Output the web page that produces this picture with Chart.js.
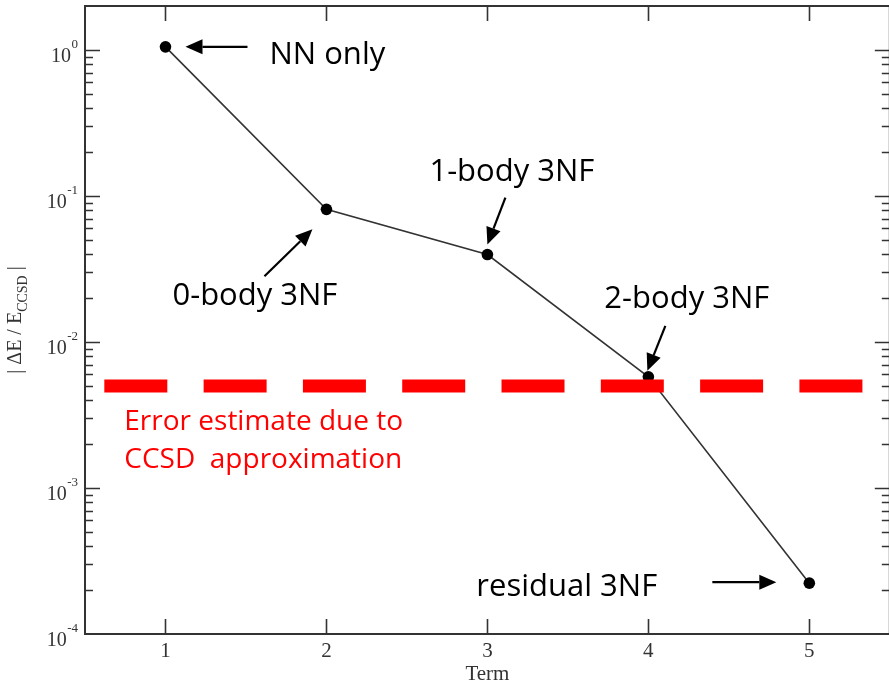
<!DOCTYPE html>
<html><head><meta charset="utf-8">
<script src="https://cdn.jsdelivr.net/npm/chart.js@4.4.1/dist/chart.umd.min.js"></script>
<style>
html,body{margin:0;padding:0;overflow:hidden;background:#fff}
#c{position:absolute;left:0;top:0;width:894px;height:686px}
</style>
</head><body>
<canvas id="c" width="894" height="686"></canvas>
<script>
// ---------- data ----------
const terms = [1, 2, 3, 4, 5];
const errorRatio = [1.05, 0.081, 0.0397, 0.00577, 0.000223];
const pointLabels = ['NN only', '0-body 3NF', '1-body 3NF', '2-body 3NF', 'residual 3NF'];
const ccsdLevel = 0.005;
const ccsdSpan = [0.62, 5.33];
const ccsdText = ['Error estimate due to', 'CCSD  approximation'];
const xTicks = [1, 2, 3, 4, 5];
const xRange = [0.5, 5.5];
const yMajorExponents = [0, -1, -2, -3, -4];
const xTitle = 'Term';
const yTitleParts = ['| \u0394E / E', 'CCSD', ' |'];

// ---------- styles (pixel offsets relative to the data point) ----------
const callouts = [
  { tip: [20, 0],   tail: [82, 0],    text: [104, 17] },
  { tip: [-14, 20], tail: [-62, 67],  text: [-154, 96] },
  { tip: [0, -10],  tail: [18, -57],  text: [-58, -74] },
  { tip: [-1, -6],  tail: [17, -51],  text: [-44, -69] },
  { tip: [-33, -1], tail: [-97, -1],  text: [-333, 13] }
];
const INK = '#333';
const SERIF = '"Liberation Serif", "Times New Roman", serif';
const SANS = '"Open Sans", "Noto Sans", sans-serif';

function arrow(ctx, x1, y1, x2, y2) {
  const ang = Math.atan2(y2 - y1, x2 - x1), L = 17, W = 7.5;
  const bx = x2 - L * Math.cos(ang), by = y2 - L * Math.sin(ang);
  ctx.beginPath(); ctx.moveTo(x1, y1); ctx.lineTo(bx, by);
  ctx.lineWidth = 2.2; ctx.strokeStyle = '#000'; ctx.stroke();
  ctx.beginPath(); ctx.moveTo(x2, y2);
  ctx.lineTo(bx - W * Math.sin(ang), by + W * Math.cos(ang));
  ctx.lineTo(bx + W * Math.sin(ang), by - W * Math.cos(ang));
  ctx.closePath(); ctx.fillStyle = '#000'; ctx.fill();
}

const framePlugin = {
  id: 'frame',
  beforeDatasetsDraw(chart) {
    const { ctx, chartArea: a, scales: { x, y } } = chart;
    const L = x.getPixelForValue(xRange[0]), R = x.getPixelForValue(xRange[1]);
    ctx.save();
    ctx.strokeStyle = INK; ctx.lineWidth = 2;
    ctx.strokeRect(L, a.top, R - L, a.bottom - a.top);
    ctx.lineWidth = 1.6;
    ctx.beginPath();
    x.ticks.forEach(t => {
      const px = Math.round(x.getPixelForValue(t.value)) + 0.5;
      ctx.moveTo(px, a.bottom); ctx.lineTo(px, a.bottom - 15);
      ctx.moveTo(px, a.top); ctx.lineTo(px, a.top + 15);
    });
    y.ticks.forEach(t => {
      const e = Math.log10(t.value);
      const major = Math.abs(e - Math.round(e)) < 1e-9;
      const len = major ? 15 : 8;
      const py = Math.round(y.getPixelForValue(t.value)) + 0.5;
      if (py < a.top + 1 || py > a.bottom - 1) return;
      ctx.moveTo(L, py); ctx.lineTo(L + len, py);
      ctx.moveTo(R, py); ctx.lineTo(R - len, py);
    });
    ctx.stroke();
    ctx.fillStyle = INK;
    ctx.font = '21px ' + SERIF; ctx.textAlign = 'center'; ctx.textBaseline = 'alphabetic';
    x.ticks.forEach(t => ctx.fillText(String(t.value), x.getPixelForValue(t.value), a.bottom + 23));
    ctx.fillText(xTitle, x.getPixelForValue((xRange[0] + xRange[1]) / 2), a.bottom + 46);
    yMajorExponents.forEach(n => {
      const py = y.getPixelForValue(Math.pow(10, n));
      const exp = n === 0 ? '0' : String(n);
      ctx.font = '13px ' + SERIF;
      const we = ctx.measureText(exp).width;
      ctx.textAlign = 'right';
      ctx.fillText(exp, L - 7, py - 2);
      ctx.font = '20px ' + SERIF;
      ctx.fillText('10', L - 7 - we - 0.5, py + 12);
    });
    ctx.save();
    ctx.translate(21, (a.top + a.bottom) / 2);
    ctx.rotate(-Math.PI / 2);
    ctx.textAlign = 'left';
    ctx.font = '20px ' + SERIF; const w0 = ctx.measureText(yTitleParts[0]).width;
    const w2 = ctx.measureText(yTitleParts[2]).width;
    ctx.font = '14px ' + SERIF; const w1 = ctx.measureText(yTitleParts[1]).width;
    let x0 = -(w0 + w1 + w2) / 2;
    ctx.font = '20px ' + SERIF; ctx.fillText(yTitleParts[0], x0, 0);
    ctx.font = '14px ' + SERIF; ctx.fillText(yTitleParts[1], x0 + w0, 6);
    ctx.font = '20px ' + SERIF; ctx.fillText(yTitleParts[2], x0 + w0 + w1, 0);
    ctx.restore();
    ctx.restore();
  },
  afterDatasetsDraw(chart) {
    const { ctx, scales: { x, y } } = chart;
    ctx.save();
    terms.forEach((t, i) => {
      const px = x.getPixelForValue(t), py = y.getPixelForValue(errorRatio[i]);
      const c = callouts[i];
      arrow(ctx, px + c.tail[0], py + c.tail[1], px + c.tip[0], py + c.tip[1]);
      ctx.fillStyle = '#000'; ctx.font = '31px ' + SANS;
      ctx.textAlign = 'left'; ctx.textBaseline = 'alphabetic';
      ctx.fillText(pointLabels[i], px + c.text[0], py + c.text[1]);
    });
    const lx = x.getPixelForValue(ccsdSpan[0]), ly = y.getPixelForValue(ccsdLevel);
    ctx.fillStyle = '#ff0000'; ctx.font = '28px ' + SANS;
    ccsdText.forEach((s, k) => ctx.fillText(s, lx + 20, ly + 44 + k * 38));
    ctx.restore();
  }
};

new Chart(document.getElementById('c'), {
  type: 'line',
  data: {
    datasets: [
      {
        label: 'CCSD error', data: ccsdSpan.map(v => ({ x: v, y: ccsdLevel })),
        borderColor: '#ff0000', borderWidth: 13, borderDash: [63, 36.3], borderCapStyle: 'butt',
        pointRadius: 0, fill: false
      },
      {
        label: 'Term', data: terms.map((t, i) => ({ x: t, y: errorRatio[i] })),
        borderColor: INK, borderWidth: 1.6, tension: 0, fill: false,
        pointRadius: 5.8, pointBackgroundColor: '#000', pointBorderColor: '#000', pointBorderWidth: 0
      }
    ]
  },
  options: {
    responsive: false, maintainAspectRatio: false, animation: false, events: [],
    layout: { padding: { left: 85, top: 6, right: 1, bottom: 52 } },
    plugins: { legend: { display: false }, tooltip: { enabled: false } },
    scales: {
      x: {
        type: 'linear', min: xRange[0], max: 5.49,
        grid: { display: false, drawTicks: false, tickLength: 0 }, border: { display: false },
        ticks: { display: false },
        afterBuildTicks: s => { s.ticks = xTicks.map(v => ({ value: v })); }
      },
      y: {
        type: 'logarithmic', min: 1e-4, max: 2,
        grid: { display: false, drawTicks: false, tickLength: 0 }, border: { display: false },
        ticks: { display: false },
        afterBuildTicks: s => {
          const t = [];
          yMajorExponents.forEach(n => { for (let m = 1; m <= 9; m++) { const v = m * Math.pow(10, n); if (v <= s.max) t.push({ value: v }); } });
          s.ticks = t;
        }
      }
    }
  },
  plugins: [framePlugin]
});
</script>
</body></html>
